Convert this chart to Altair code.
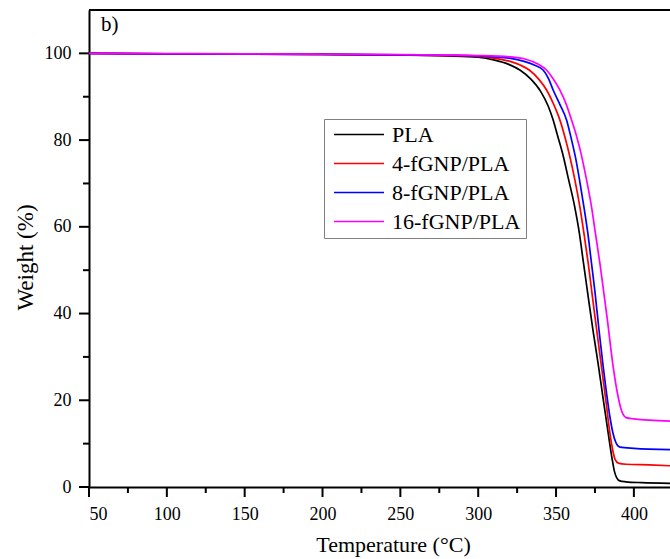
import altair as alt
import pandas as pd

series_names = ["PLA", "4-fGNP/PLA", "8-fGNP/PLA", "16-fGNP/PLA"]
series_colors = ["#000000", "#ff0000", "#0000ff", "#ff00ff"]

t_pla = [50, 100, 150, 200, 250, 280, 300, 310, 320, 327, 334, 340, 345, 348, 351, 354.5, 358, 362, 365, 367.5, 371, 374, 377, 380, 383.5, 386, 387.5, 389, 391, 395, 405, 423.2]
w_pla = [100, 99.9, 99.85, 99.75, 99.6, 99.4, 99.1, 98.5, 97.4, 96.1, 94, 91.3, 87.8, 84.8, 81, 76.5, 71, 64.6, 58.5, 52, 43, 35.5, 28.5, 21, 12.4, 6.5, 3.6, 2.1, 1.4, 1.2, 1.0, 0.85]

t_4 = [50, 100, 150, 200, 250, 280, 300, 310, 320, 327, 333, 339, 344, 348.5, 352.5, 356, 359, 362, 365.3, 368, 370.7, 373.5, 376, 379.2, 382, 384.6, 386.5, 388, 390, 395, 410, 423.2]
w_4 = [100, 99.9, 99.85, 99.75, 99.65, 99.5, 99.3, 98.9, 98.2, 97.3, 96.1, 94, 91.5, 88.2, 84.6, 80.3, 76, 71, 64.6, 58.3, 51.5, 43.5, 36.5, 27.7, 20, 12.4, 8.3, 6.3, 5.5, 5.25, 5.1, 4.9]

t_8 = [50, 100, 150, 200, 250, 280, 300, 320, 330, 336, 341.8, 345, 348.2, 352.5, 356.8, 360, 362.5, 365, 367.9, 370.5, 372.8, 375, 377.5, 380.3, 382.5, 384.6, 386.5, 388.5, 391, 400, 423.2]
w_8 = [100, 99.9, 99.85, 99.75, 99.65, 99.55, 99.4, 98.9, 98.1, 97.3, 96.1, 94.3, 91.5, 88.2, 84.6, 80, 76, 71, 64.6, 58.3, 51.5, 45, 36.5, 27.7, 21.5, 16.2, 12.5, 10.2, 9.2, 8.9, 8.6]

t_16 = [50, 100, 150, 200, 250, 280, 300, 320, 330, 338, 344, 348, 352.5, 356.5, 360, 363.5, 366, 369.5, 372.8, 375.5, 378.2, 380.8, 383, 386.7, 389.5, 391.5, 393, 395, 400, 423.2]
w_16 = [100, 99.95, 99.9, 99.8, 99.7, 99.6, 99.5, 99.2, 98.7, 97.6, 96.1, 94.2, 91.5, 88.3, 84.6, 80.5, 77, 71, 64.6, 58, 51.5, 44.5, 38.5, 27.7, 21.5, 18.3, 16.8, 16.0, 15.7, 15.2]

x_major = [50, 100, 150, 200, 250, 300, 350, 400]
x_minor = [75, 125, 175, 225, 275, 325, 375]
y_major = [0, 20, 40, 60, 80, 100]
y_minor = [10, 30, 50, 70, 90]
panel_label = ["b)"]

rows = []
for order, (name, ts, ws) in enumerate(zip(series_names, [t_pla, t_4, t_8, t_16], [w_pla, w_4, w_8, w_16])):
    for t, w in zip(ts, ws):
        rows.append({"Sample": name, "T": t, "W": w, "order": order})
df = pd.DataFrame(rows)

FONT = "Liberation Serif"
W, H = 581, 477

xscale = alt.Scale(domain=[50, 423.2], nice=False, zero=False)
yscale = alt.Scale(domain=[0, 110], nice=False, zero=False)

x_axis = alt.Axis(
    values=x_major, ticks=False,
    domainWidth=2, domainColor="black",
    labelFont=FONT, labelFontSize=18, labelColor="black", labelPadding=18,
    grid=False, title="Temperature (°C)", titleFont=FONT, titleFontSize=22,
    titleFontWeight="normal", titleColor="black", titleX=304, titleY=64,
    titleBaseline="alphabetic", titleAlign="center",
)
y_axis = alt.Axis(
    values=y_major, ticks=False,
    domainWidth=2, domainColor="black",
    labelFont=FONT, labelFontSize=18, labelColor="black", labelPadding=18,
    grid=False, title="Weight (%)", titleFont=FONT, titleFontSize=23,
    titleFontWeight="normal", titleColor="black", titleX=-52, titleY=247,
    titleAngle=-90, titleBaseline="bottom", titleAlign="center",
)

lines = alt.Chart(df).mark_line(strokeWidth=1.7, clip=True, interpolate="monotone").encode(
    x=alt.X("T:Q", scale=xscale, axis=x_axis),
    y=alt.Y("W:Q", scale=yscale, axis=y_axis),
    color=alt.Color(
        "Sample:N",
        scale=alt.Scale(domain=series_names, range=series_colors),
        sort=series_names,
        legend=alt.Legend(
            orient="none", legendX=235, legendY=109, title=None,
            symbolType="stroke", symbolSize=2500, symbolStrokeWidth=1.6,
            clipHeight=21,
            labelFont=FONT, labelFontSize=22, labelColor="black", labelOffset=7,
            strokeColor="#808080", fillColor="white", padding=5, symbolOffset=4,
            rowPadding=6, labelLimit=400,
        ),
    ),
    order=alt.Order("order:Q"),
    detail="Sample:N",
)

x_major_ticks = alt.Chart(pd.DataFrame({"T": x_major})).mark_rule(
    color="black", strokeWidth=2, clip=False
).encode(x=alt.X("T:Q", scale=xscale), y=alt.value(H), y2=alt.value(H + 10))

x_minor_ticks = alt.Chart(pd.DataFrame({"T": x_minor})).mark_rule(
    color="black", strokeWidth=2, clip=False
).encode(x=alt.X("T:Q", scale=xscale), y=alt.value(H), y2=alt.value(H + 6))

y_major_ticks = alt.Chart(pd.DataFrame({"W": y_major})).mark_rule(
    color="black", strokeWidth=2, clip=False
).encode(y=alt.Y("W:Q", scale=yscale), x=alt.value(0), x2=alt.value(-10))

y_minor_ticks = alt.Chart(pd.DataFrame({"W": y_minor})).mark_rule(
    color="black", strokeWidth=2, clip=False
).encode(y=alt.Y("W:Q", scale=yscale), x=alt.value(0), x2=alt.value(-6))

top_border = alt.Chart(pd.DataFrame({"a": [0]})).mark_rule(color="black", strokeWidth=2).encode(
    x=alt.value(0), x2=alt.value(W), y=alt.value(0)
)

label = alt.Chart(pd.DataFrame({"txt": panel_label})).mark_text(
    font=FONT, fontSize=21, align="left", baseline="alphabetic", color="black"
).encode(x=alt.value(12), y=alt.value(21), text="txt:N")

chart = alt.layer(
    lines, x_major_ticks, x_minor_ticks, y_major_ticks, y_minor_ticks, top_border, label
).properties(
    width=W, height=H,
    autosize=alt.AutoSizeParams(type="none"),
    padding={"left": 89, "top": 10, "right": 0, "bottom": 72},
    background="white",
).configure_view(stroke=None).configure_axis(labelFont=FONT, titleFont=FONT)

chart.save("out.html", embed_options={"renderer": "svg", "actions": False})
